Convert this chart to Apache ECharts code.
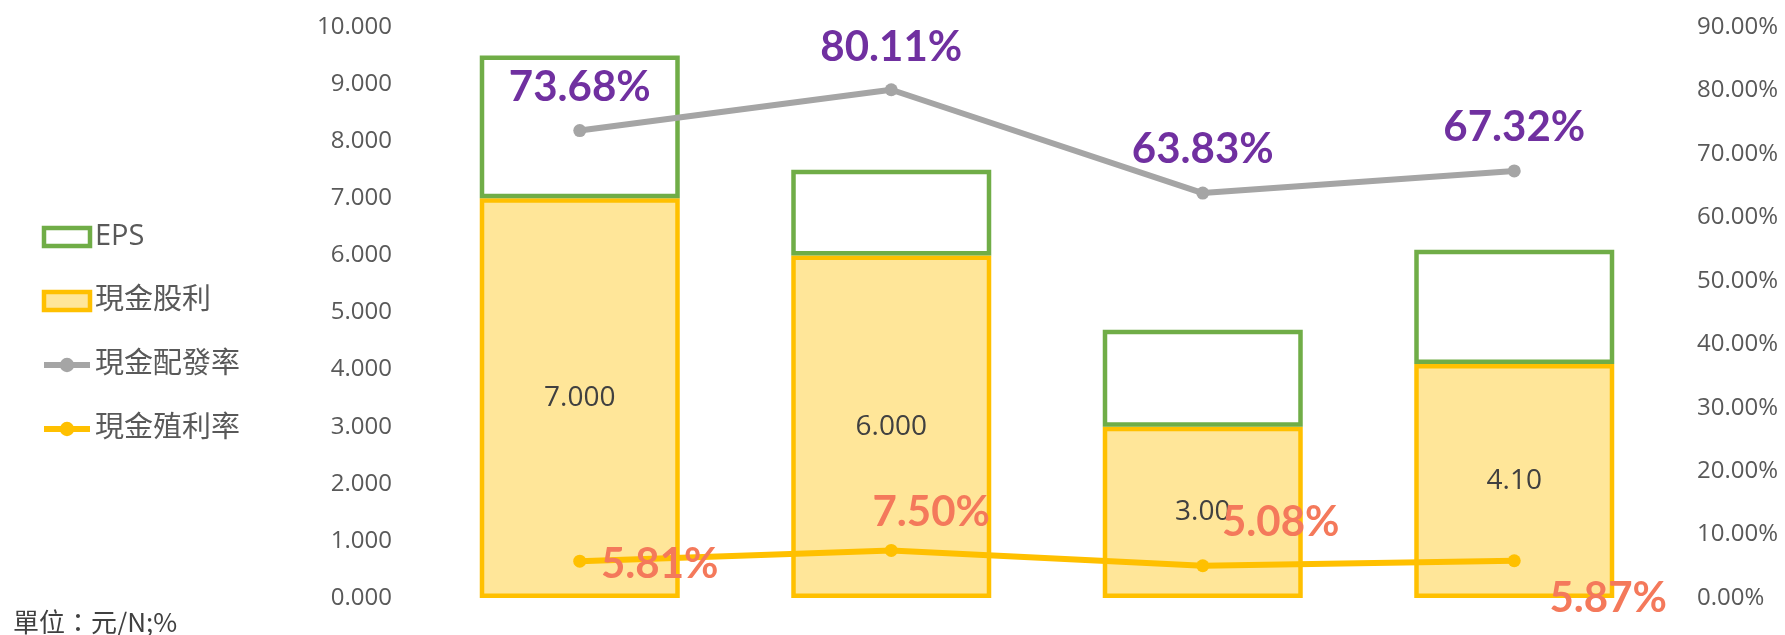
<!DOCTYPE html>
<html>
<head>
<meta charset="utf-8">
<script src="https://cdn.jsdelivr.net/npm/echarts@6/dist/echarts.min.js"></script>
<style>
html,body{margin:0;padding:0;background:#fff;}
#c{width:1785px;height:635px;}
</style>
</head>
<body>
<div id="c"></div>
<script>
// ---- data ----
const categories = ['1', '2', '3', '4'];
const eps = [9.5, 7.5, 4.7, 6.1];
const cashDividend = [7.0, 6.0, 3.0, 4.1];
const cashDividendLabels = ['7.000', '6.000', '3.00', '4.10'];
const payoutRatio = [73.68, 80.11, 63.83, 67.32];
const dividendYield = [5.81, 7.50, 5.08, 5.87];
const leftTicks = { min: 0, max: 10, interval: 1 };
const rightTicks = { min: 0, max: 90, interval: 10 };

// ---- label placement (style) ----
const payoutOffsets = [[0, -43], [0, -42], [0, -44], [0, -43]];
const yieldOffsets = [[80, 3], [40, -38], [78, -43], [94, 38]];

const latin = '"Open Sans", "Noto Sans CJK TC", sans-serif';
const bold = 'Lato, "Open Sans", sans-serif';

const chart = echarts.init(document.getElementById('c'), null, { renderer: 'canvas' });

const option = {
  backgroundColor: '#ffffff',
  animation: false,
  grid: { left: 424, right: 115, top: 27, bottom: 37, containLabel: false },
  legend: {
    orient: 'vertical',
    left: 41,
    top: 222,
    padding: 0,
    itemWidth: 46,
    itemHeight: 18,
    itemGap: 34,
    itemTextGap: 5,
    textStyle: { fontSize: 29, lineHeight: 30, color: '#595959', fontFamily: latin },
    data: [
      { name: 'EPS', icon: 'rect', itemStyle: { borderWidth: 4.5 } },
      { name: '現金股利', icon: 'rect', itemStyle: { borderWidth: 4.5 } },
      { name: '現金配發率', lineStyle: { width: 6 } },
      { name: '現金殖利率', lineStyle: { width: 6 } }
    ]
  },
  graphic: [{
    type: 'text',
    left: 13,
    top: 609,
    style: { text: '單位：元/N;%', fontSize: 26, fill: '#404040', fontFamily: '"Noto Sans CJK TC", "Open Sans", sans-serif' }
  }],
  xAxis: {
    type: 'category',
    data: categories,
    axisLine: { show: false },
    axisTick: { show: false },
    axisLabel: { show: false },
    splitLine: { show: false }
  },
  yAxis: [{
    type: 'value',
    min: leftTicks.min, max: leftTicks.max, interval: leftTicks.interval,
    axisLine: { show: false }, axisTick: { show: false }, splitLine: { show: false },
    axisLabel: { margin: 32, fontSize: 24, color: '#595959', fontFamily: latin,
      formatter: v => v.toFixed(3) }
  }, {
    type: 'value',
    min: rightTicks.min, max: rightTicks.max, interval: rightTicks.interval,
    axisLine: { show: false }, axisTick: { show: false }, splitLine: { show: false },
    axisLabel: { margin: 27, fontSize: 24, color: '#595959', fontFamily: latin,
      formatter: v => v.toFixed(2) + '%' }
  }],
  series: [{
    name: '現金股利',
    type: 'bar',
    stack: 'div',
    barWidth: 200,
    data: cashDividend,
    itemStyle: { color: '#FFE699', borderColor: '#FFC000', borderWidth: 4.5 },
    label: {
      show: true, position: 'inside', fontSize: 28, color: '#404040', fontFamily: latin,
      formatter: p => cashDividendLabels[p.dataIndex]
    },
    z: 2
  }, {
    name: 'EPS',
    type: 'bar',
    stack: 'div',
    barWidth: 200,
    data: eps.map((v, i) => v - cashDividend[i]),
    itemStyle: { color: '#FFFFFF', borderColor: '#70AD47', borderWidth: 4.5 },
    z: 2
  }, {
    name: '現金配發率',
    type: 'line',
    yAxisIndex: 1,
    data: payoutRatio.map((v, i) => ({
      value: v,
      label: { offset: payoutOffsets[i] }
    })),
    symbol: 'circle',
    symbolSize: 13,
    lineStyle: { color: '#A5A5A5', width: 6 },
    itemStyle: { color: '#A5A5A5' },
    label: {
      show: true, position: 'inside', fontSize: 42, fontWeight: 'bold', color: '#7030A0', fontFamily: bold,
      formatter: p => payoutRatio[p.dataIndex].toFixed(2) + '%'
    },
    z: 5
  }, {
    name: '現金殖利率',
    type: 'line',
    yAxisIndex: 1,
    data: dividendYield.map((v, i) => ({
      value: v,
      label: { offset: yieldOffsets[i] }
    })),
    symbol: 'circle',
    symbolSize: 13,
    lineStyle: { color: '#FFC000', width: 6 },
    itemStyle: { color: '#FFC000' },
    label: {
      show: true, position: 'inside', fontSize: 42, fontWeight: 'bold', color: '#F4795B', fontFamily: bold,
      formatter: p => dividendYield[p.dataIndex].toFixed(2) + '%'
    },
    z: 6
  }]
};

chart.setOption(option);
</script>
</body>
</html>
